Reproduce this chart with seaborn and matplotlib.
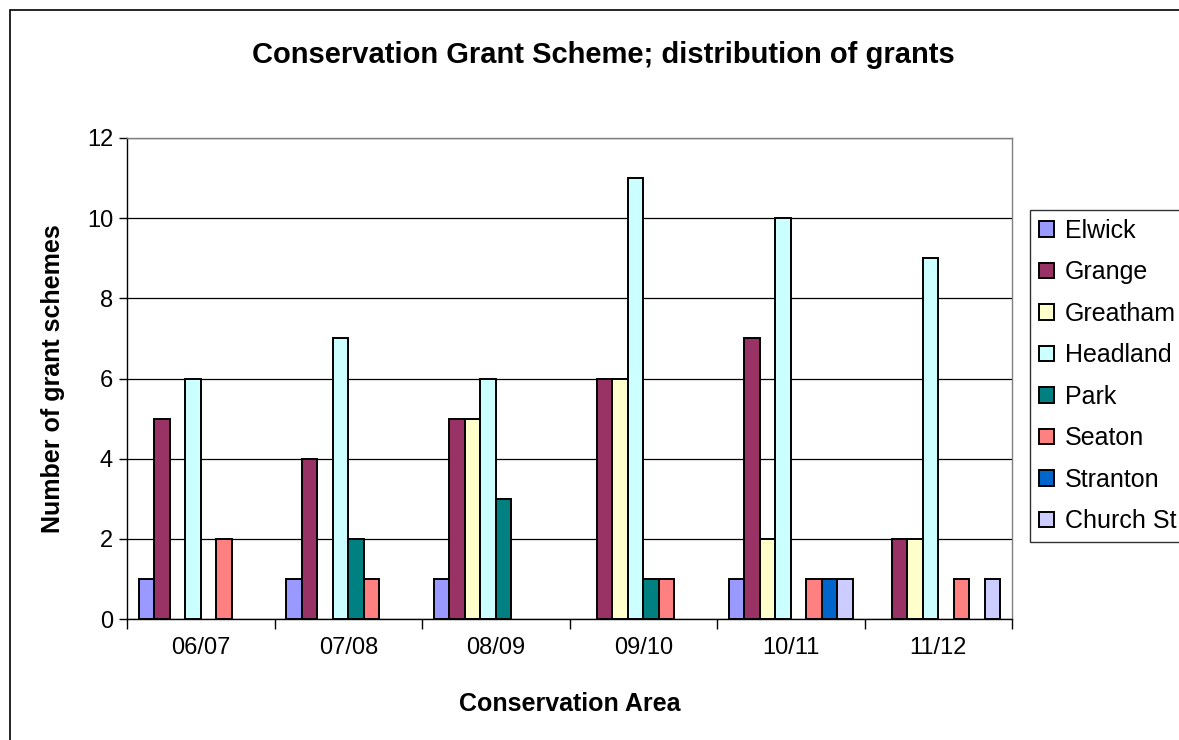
import pandas as pd
import matplotlib
matplotlib.use("Agg")
import matplotlib.pyplot as plt
import seaborn as sns
from matplotlib.patches import Rectangle

# Grants per conservation area, by financial year
years = ["06/07", "07/08", "08/09", "09/10", "10/11", "11/12"]
areas = ["Elwick", "Grange", "Greatham", "Headland", "Park", "Seaton", "Stranton", "Church St"]
elwick = [1, 1, 1, 0, 1, 0]
grange = [5, 4, 5, 6, 7, 2]
greatham = [0, 0, 5, 6, 2, 2]
headland = [6, 7, 6, 11, 10, 9]
park = [0, 2, 3, 1, 0, 0]
seaton = [2, 1, 0, 1, 1, 1]
stranton = [0, 0, 0, 0, 1, 0]
church_st = [0, 0, 0, 0, 1, 1]
colours = ["#9999FF", "#993366", "#FFFFCC", "#CCFFFF", "#008080", "#FF8080", "#0066CC", "#CCCCFF"]

series = [elwick, grange, greatham, headland, park, seaton, stranton, church_st]
rows = []
for area, vals in zip(areas, series):
    for yr, v in zip(years, vals):
        rows.append({"year": yr, "area": area, "count": v})
df = pd.DataFrame(rows)

sns.set_style("white")
plt.rcParams["font.family"] = ["Liberation Sans", "DejaVu Sans"]
plt.rcParams["text.color"] = "black"
plt.rcParams["axes.labelcolor"] = "black"
plt.rcParams["xtick.color"] = "black"
plt.rcParams["ytick.color"] = "black"

fig = plt.figure(figsize=(11.79, 7.40), dpi=100)
ax = fig.add_axes([127 / 1179, 1 - 619 / 740, 885 / 1179, 481 / 740])

sns.barplot(data=df, x="year", y="count", hue="area", hue_order=areas,
            palette=colours, width=0.84, edgecolor="black", linewidth=1.4,
            errorbar=None, saturation=1, ax=ax)

# empty categories are not drawn in the original
for cont in ax.containers:
    for bar in cont:
        if bar.get_height() == 0:
            bar.set_visible(False)

ax.set_ylim(0, 12)
ax.set_xlim(-0.5, 5.5)
ax.set_yticks(range(0, 13, 2))
ax.yaxis.grid(True, color="black", linewidth=0.9)
ax.set_axisbelow(True)

# ticks between the groups, like the spreadsheet original
ax.set_xticks([i - 0.5 for i in range(7)], minor=True)
ax.tick_params(axis="x", which="major", length=0, labelsize=17, pad=13)
ax.tick_params(axis="x", which="minor", length=7, width=1, color="black", direction="out")
ax.tick_params(axis="y", length=6, width=1, color="black", direction="out", labelsize=17, pad=4)
ax.xaxis.set_ticks_position("bottom")
ax.yaxis.set_ticks_position("left")

for side in ["left", "bottom"]:
    ax.spines[side].set_color("black")
    ax.spines[side].set_linewidth(1)
for side in ["top", "right"]:
    ax.spines[side].set_color("#808080")
    ax.spines[side].set_linewidth(1)

ax.set_xlabel("Conservation Area", fontsize=18, fontweight="bold", labelpad=24)
ax.set_ylabel("Number of grant schemes", fontsize=18, fontweight="bold", labelpad=16)

fig.text(603 / 1179, 1 - 55 / 740, "Conservation Grant Scheme; distribution of grants",
         ha="center", va="center", fontsize=21, fontweight="bold")

# outer chart border, running off the right and bottom edges
fig.patches.append(Rectangle((10 / 1179, -0.1), 1.2, 1.1 - 10 / 740,
                             transform=fig.transFigure, fill=False,
                             edgecolor="black", linewidth=1.2))

handles, labels = ax.get_legend_handles_labels()
leg = ax.legend(handles, labels, loc="upper left",
                bbox_to_anchor=(1030 / 1179, 1 - 210 / 740),
                bbox_transform=fig.transFigure, frameon=True, fancybox=False,
                edgecolor="black", fontsize=18, handlelength=0.6, handleheight=0.6,
                handletextpad=0.45, labelspacing=0.7, borderpad=0.35, borderaxespad=0)
leg.get_frame().set_linewidth(1)

fig.savefig("out.png", dpi=100)
